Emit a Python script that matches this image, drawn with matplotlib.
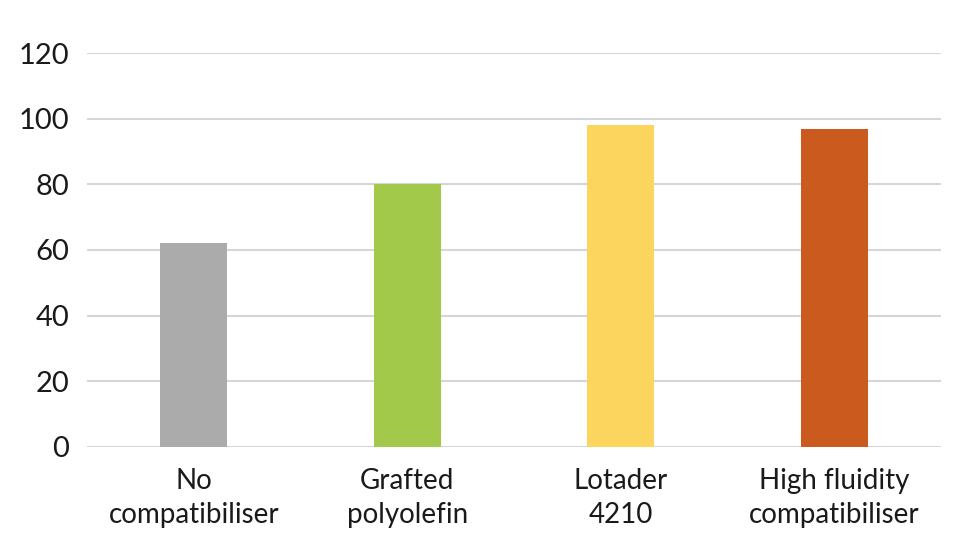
import matplotlib.pyplot as plt
import numpy as np

categories = ["No\ncompatibiliser", "Grafted\npolyolefin", "Lotader\n4210", "High fluidity\ncompatibiliser"]
values = [62, 80, 98, 97]
colors = ["#ababab", "#a2c94a", "#fbd55e", "#cb5a1e"]
yticks = [0, 20, 40, 60, 80, 100, 120]

plt.rcParams['font.family'] = ['Lato', 'DejaVu Sans']

fig = plt.figure(figsize=(9.57, 5.58), dpi=100)
ax = fig.add_axes([0.091, 0.199, 0.892, 0.706])

x = np.arange(len(categories))
ax.bar(x, values, width=0.314, color=colors, zorder=3)

ax.set_xlim(-0.5, len(categories) - 0.5)
ax.set_ylim(0, 120)
ax.set_yticks(yticks)
ax.set_xticks(x)
ax.set_xticklabels(categories, fontsize=20, linespacing=1.4, color="#1a1a1a")
ax.tick_params(axis='y', length=0, pad=13, labelsize=21, labelcolor="#1a1a1a")
ax.tick_params(axis='x', length=0, pad=15)
ax.yaxis.grid(True, color="#d3d6da", linewidth=1.5, zorder=0)
for s in ax.spines.values():
    s.set_visible(False)

fig.savefig("out.png", dpi=100)
